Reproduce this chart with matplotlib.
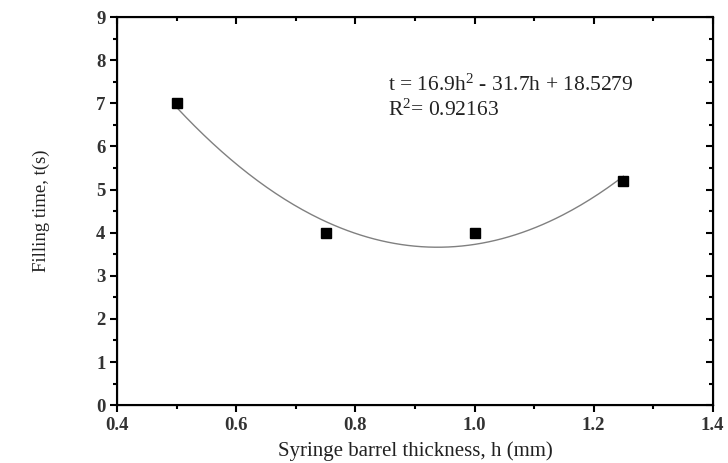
import numpy as np
import matplotlib.pyplot as plt
from matplotlib.ticker import MultipleLocator

plt.rcParams['font.family'] = ['Liberation Serif', 'DejaVu Serif']
plt.rcParams['mathtext.fontset'] = 'custom'
plt.rcParams['mathtext.rm'] = 'Liberation Serif'
plt.rcParams['mathtext.it'] = 'Liberation Serif:italic'

# measured points
thickness = [0.5, 0.75, 1.0, 1.25]
fill_time = [7.0, 4.0, 4.0, 5.2]
# quadratic fit reported on the chart
fit_coef = [16.9, -31.7, 18.5279]
r_squared = 0.92163

fig = plt.figure(figsize=(7.28, 4.63), dpi=100)
ax = fig.add_axes([0.161, 0.125, 0.818, 0.838])

h = np.linspace(min(thickness), max(thickness), 200)
ax.plot(h, np.polyval(fit_coef, h), color='#808080', lw=1.0, zorder=2)
ax.plot(thickness, fill_time, 's', color='black', ms=7, zorder=3)

ax.text(0.855, 7.42, 't = 16.9h$^\\mathrm{2}$ - 31.7h + 18.5279', fontsize=15.5,
        va='center', color='#222222')
ax.text(0.855, 6.84, 'R$^\\mathrm{2}$= %.5f' % r_squared, fontsize=15.5,
        va='center', color='#222222')

ax.set_xlim(0.4, 1.4)
ax.set_ylim(0, 9)
ax.xaxis.set_major_locator(MultipleLocator(0.2))
ax.xaxis.set_minor_locator(MultipleLocator(0.1))
ax.yaxis.set_major_locator(MultipleLocator(1))
ax.yaxis.set_minor_locator(MultipleLocator(0.5))

ax.tick_params(which='both', direction='out', width=1.5, labelsize=13.5)
ax.tick_params(which='major', length=5)
ax.tick_params(which='minor', length=3)
for lbl in ax.get_xticklabels() + ax.get_yticklabels():
    lbl.set_fontweight('bold')
    lbl.set_color('#333333')
for s in ax.spines.values():
    s.set_linewidth(1.5)

# mirrored ticks on top/right point inward
tx = ax.twiny()
tx.set_xlim(ax.get_xlim())
tx.xaxis.set_major_locator(MultipleLocator(0.2))
tx.xaxis.set_minor_locator(MultipleLocator(0.1))
tx.tick_params(which='both', direction='in', width=1.5, labeltop=False)
tx.tick_params(which='major', length=5)
tx.tick_params(which='minor', length=3)
ty = ax.twinx()
ty.set_ylim(ax.get_ylim())
ty.yaxis.set_major_locator(MultipleLocator(1))
ty.yaxis.set_minor_locator(MultipleLocator(0.5))
ty.tick_params(which='both', direction='in', width=1.5, labelright=False)
ty.tick_params(which='major', length=5)
ty.tick_params(which='minor', length=3)

ax.set_xlabel('Syringe barrel thickness, h (mm)', fontsize=15, labelpad=5,
              color='#222222')
ax.set_ylabel('Filling time, t(s)', fontsize=13.5, labelpad=33, color='#222222')

fig.savefig('out.png', dpi=100)
